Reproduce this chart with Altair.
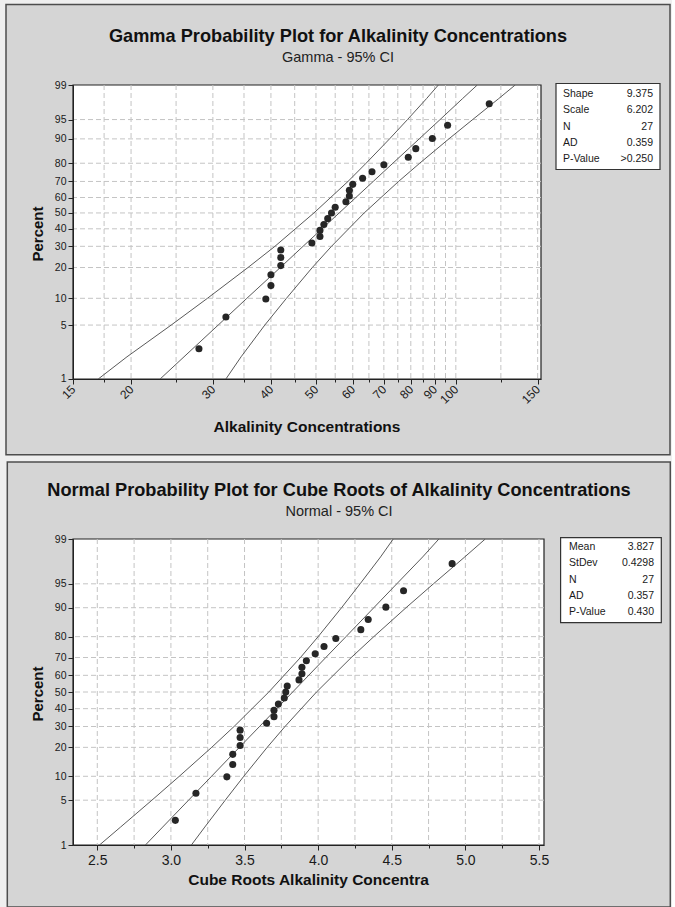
import math
from statistics import NormalDist

import altair as alt
import pandas as pd

# ---------------- data ----------------
PCT = [2.55, 6.20, 9.85, 13.50, 17.15, 20.80, 24.45, 28.10, 31.75, 35.40, 39.05,
       42.70, 46.35, 50.00, 53.65, 57.30, 60.95, 64.60, 68.25, 71.90, 75.55,
       79.20, 82.85, 86.50, 90.15, 93.80, 97.45]
ALK = [28, 32, 39, 40, 40, 42, 42, 42, 49, 51, 51, 52, 53, 54, 55, 58, 59, 59,
       60, 63, 66, 70, 79, 82, 89, 96, 118]
CUBE = [3.03, 3.17, 3.38, 3.42, 3.42, 3.47, 3.47, 3.47, 3.65, 3.70, 3.70, 3.73,
        3.77, 3.78, 3.79, 3.87, 3.89, 3.89, 3.92, 3.98, 4.04, 4.12, 4.29, 4.34,
        4.46, 4.58, 4.91]

LINE_PCT = [1, 2, 5, 10, 20, 30, 50, 70, 80, 90, 95, 98, 99]
G_LOWER = [17.0, 19.6, 24.4, 29.2, 35.7, 40.8, 49.5, 58.6, 64.1, 72.0, 78.7, 86.5, 91.7]
G_FIT = [23.1, 26.0, 30.8, 35.5, 41.9, 46.9, 56.1, 66.4, 73.2, 83.4, 92.5, 103.4, 111.2]
G_UPPER = [32.0, 34.5, 38.8, 43.2, 49.1, 54.0, 63.5, 75.3, 83.6, 96.6, 108.7, 123.7, 134.2]
N_LOWER = [2.515, 2.658, 2.871, 3.057, 3.277, 3.429, 3.665, 3.880, 4.000, 4.159, 4.285, 4.424, 4.510]
N_FIT = [2.827, 2.944, 3.120, 3.276, 3.465, 3.602, 3.827, 4.052, 4.189, 4.378, 4.534, 4.710, 4.820]
N_UPPER = [3.139, 3.230, 3.369, 3.495, 3.654, 3.775, 3.989, 4.225, 4.378, 4.597, 4.783, 4.996, 5.135]

G_STAT_LABELS = ["Shape", "Scale", "N", "AD", "P-Value"]
G_STAT_VALUES = ["9.375", "6.202", "27", "0.359", ">0.250"]
N_STAT_LABELS = ["Mean", "StDev", "N", "AD", "P-Value"]
N_STAT_VALUES = ["3.827", "0.4298", "27", "0.357", "0.430"]

SHAPE = 9.375

Y_TICKS = [1, 5, 10, 20, 30, 40, 50, 60, 70, 80, 90, 95, 99]
Y_GRID = [5, 10, 20, 30, 40, 50, 60, 70, 80, 90, 95]
G_X_MAJOR = [15, 20, 30, 40, 50, 60, 70, 80, 90, 100, 150]
G_X_ALL = [15, 17.5, 20, 25, 30, 35, 40, 45, 50, 55, 60, 65, 70, 75, 80, 85, 90,
           95, 100, 125, 150]
G_X_GRID = [17.5, 20, 25, 30, 35, 40, 45, 50, 55, 60, 65, 70, 75, 80, 85, 90, 95,
            100, 125, 150]
N_X_ALL = [2.5, 2.75, 3.0, 3.25, 3.5, 3.75, 4.0, 4.25, 4.5, 4.75, 5.0, 5.25, 5.5]

# ---------------- probability-scale helpers ----------------
ND = NormalDist()


def gamma_y(p):
    z = ND.inv_cdf(p)
    return 3 * math.log(1 - 1 / (9 * SHAPE) + z / (3 * math.sqrt(SHAPE)))


def norm_y(p):
    return ND.inv_cdf(p)


G_EXPR = f"3*log(1 - 1/(9*{SHAPE}) + quantileNormal(datum.pct/100)/(3*sqrt({SHAPE})))"
N_EXPR = "quantileNormal(datum.pct/100)"
G_LABEL = (f"'' + round(cumulativeNormal((exp(datum.value/3) - 1 + 1/(9*{SHAPE}))"
           f" * 3*sqrt({SHAPE}))*100)")
N_LABEL = "'' + round(cumulativeNormal(datum.value)*100)"

FONT = "Liberation Sans"
TXT = "#1a1a1a"
LINE_C = "#5a5a5a"
GRID_C = "#c4c4c4"
PANEL_FILL = "#d5d5d5"
ONE = alt.Data(values=[{}])


def lines_df(lower, fit, upper):
    rows = []
    for name, arr in (("lower", lower), ("fit", fit), ("upper", upper)):
        for p, v in zip(LINE_PCT, arr):
            rows.append({"pct": p, "x": v, "series": name})
    return pd.DataFrame(rows)


def panel(kind):
    if kind == "gamma":
        W, H = 468, 294
        xs = alt.Scale(type="log", domain=[15, 152.5], nice=False)
        yvals = [round(gamma_y(p / 100), 6) for p in Y_TICKS]
        expr, lab = G_EXPR, G_LABEL
        major_test = "indexof(" + str(G_X_MAJOR) + ", datum.value) >= 0"
        xaxis = alt.Axis(values=G_X_ALL, labelExpr=f"{major_test} ? '' + datum.value : ''",
                         labelAngle=315, labelAlign="right", labelBaseline="middle",
                         labelFontSize=12, labelFont=FONT, labelColor=TXT, labelPadding=3,
                         tickSize={"condition": {"test": major_test, "value": 5}, "value": 3},
                         tickColor="#222", domainColor="#222", title=None, grid=False,
                         zindex=1, labelOverlap=False, labelFlush=False, labelBound=False)
        pts = pd.DataFrame({"pct": PCT, "v": ALK})
        ldf = lines_df(G_LOWER, G_FIT, G_UPPER)
        xgrid = G_X_GRID
        frame = (-67, 597, -80.5, 369.7)
        title = "Gamma Probability Plot for Alkalinity Concentrations"
        subtitle = "Gamma - 95% CI"
        xtitle = "Alkalinity Concentrations"
        xtitle_y = 342
        stat_l, stat_v = G_STAT_LABELS, G_STAT_VALUES
        box = (483, 587, -1.5, 84.5)
        lab_x, val_x, stat_y = 490, 580, 4
        cx = 265
    else:
        W, H = 471, 306
        xs = alt.Scale(domain=[2.335, 5.534], nice=False, zero=False)
        yvals = [round(norm_y(p / 100), 6) for p in Y_TICKS]
        expr, lab = N_EXPR, N_LABEL
        major_test = "abs(datum.value*2 - round(datum.value*2)) < 0.001"
        xaxis = alt.Axis(values=N_X_ALL, labelExpr=f"{major_test} ? format(datum.value, '.1f') : ''",
                         labelFontSize=14, labelFont=FONT, labelColor=TXT, labelPadding=3,
                         tickSize={"condition": {"test": major_test, "value": 5}, "value": 3},
                         tickColor="#222", domainColor="#222", title=None, grid=False,
                         zindex=1, labelOverlap=False, labelFlush=False, labelBound=False)
        pts = pd.DataFrame({"pct": PCT, "v": CUBE})
        ldf = lines_df(N_LOWER, N_FIT, N_UPPER)
        xgrid = N_X_ALL
        frame = (-65.7, 597.3, -77, 368)
        title = "Normal Probability Plot for Cube Roots of Alkalinity Concentrations"
        subtitle = "Normal - 95% CI"
        xtitle = "Cube Roots Alkalinity Concentra"
        xtitle_y = 341
        stat_l, stat_v = N_STAT_LABELS, N_STAT_VALUES
        box = (487.6, 588.3, -1.3, 83.7)
        lab_x, val_x, stat_y = 496, 581, 3
        cx = 266

    ys = alt.Scale(domain=[yvals[0] - 1e-7, yvals[-1] + 1e-7], nice=False, zero=False)
    yaxis = alt.Axis(values=yvals, labelExpr=lab, labelFontSize=10.5, labelFont=FONT,
                     labelColor=TXT, labelPadding=2, tickSize=5, tickColor="#222",
                     domainColor="#222", title=None, grid=False, zindex=1,
                     labelOverlap=False, labelFlush=False, labelBound=False)

    fr = alt.Chart(ONE).mark_rect(fill=PANEL_FILL, stroke="#4d4d4d", strokeWidth=1.5).encode(
        x=alt.value(frame[0]), x2=alt.value(frame[1]), y=alt.value(frame[2]), y2=alt.value(frame[3]))
    bg = alt.Chart(ONE).mark_rect(fill="white", stroke="#222", strokeWidth=1.2).encode(
        x=alt.value(0), x2=alt.value(W), y=alt.value(0), y2=alt.value(H))
    vgrid = alt.Chart(pd.DataFrame({"g": xgrid})).mark_rule(
        color=GRID_C, strokeDash=[5, 3], strokeWidth=1).encode(
        x=alt.X("g:Q", scale=xs, axis=xaxis))
    hgrid = alt.Chart(pd.DataFrame({"pct": Y_GRID})).transform_calculate(yv=expr).mark_rule(
        color=GRID_C, strokeDash=[5, 3], strokeWidth=1).encode(
        y=alt.Y("yv:Q", scale=ys, axis=yaxis))
    lines = alt.Chart(ldf).transform_calculate(yv=expr).mark_line(
        color=LINE_C, strokeWidth=1, clip=True).encode(
        x=alt.X("x:Q", scale=xs, axis=xaxis),
        y=alt.Y("yv:Q", scale=ys, axis=yaxis),
        detail="series:N", order="pct:Q")
    points = alt.Chart(pts).transform_calculate(yv=expr).mark_circle(
        size=50, color="#262626", opacity=1, clip=True).encode(
        x=alt.X("v:Q", scale=xs, axis=xaxis), y=alt.Y("yv:Q", scale=ys, axis=yaxis))

    t1 = alt.Chart(ONE).mark_text(text=title, font=FONT, fontSize=18.2, fontWeight="bold",
                                  color="#111", align="center", baseline="middle").encode(
        x=alt.value(cx), y=alt.value(-48.5))
    t2 = alt.Chart(ONE).mark_text(text=subtitle, font=FONT, fontSize=14.5, color="#222",
                                  align="center", baseline="middle").encode(
        x=alt.value(cx), y=alt.value(-27.5))
    xt = alt.Chart(ONE).mark_text(text=xtitle, font=FONT, fontSize=15.5, fontWeight="bold",
                                  color="#111", align="center", baseline="middle").encode(
        x=alt.value(W / 2), y=alt.value(xtitle_y))
    yt = alt.Chart(ONE).mark_text(text="Percent", font=FONT, fontSize=15, fontWeight="bold",
                                  color="#111", align="center", baseline="middle",
                                  angle=270).encode(
        x=alt.value(-35), y=alt.value(H / 2 + 2))
    bx = alt.Chart(ONE).mark_rect(fill="white", stroke="#333", strokeWidth=1.2).encode(
        x=alt.value(box[0]), x2=alt.value(box[1]), y=alt.value(box[2]), y2=alt.value(box[3]))
    sl = alt.Chart(ONE).mark_text(font=FONT, fontSize=10.5, color=TXT, align="left",
                                  baseline="top", lineHeight=16.3).encode(
        x=alt.value(lab_x), y=alt.value(stat_y), text=alt.value(stat_l))
    sv = alt.Chart(ONE).mark_text(font=FONT, fontSize=10.5, color=TXT, align="right",
                                  baseline="top", lineHeight=16.3).encode(
        x=alt.value(val_x), y=alt.value(stat_y), text=alt.value(stat_v))

    return alt.layer(fr, bg, vgrid, hgrid, lines, points, t1, t2, xt, yt, bx, sl, sv).properties(
        width=W, height=H)


chart = alt.vconcat(panel("gamma"), panel("normal"), spacing=5).properties(
    padding={"left": 5, "top": 3, "right": 0, "bottom": 0},
    background="#efefef",
).configure_view(strokeWidth=0)

chart.save("out.html", embed_options={"renderer": "svg", "actions": False})
